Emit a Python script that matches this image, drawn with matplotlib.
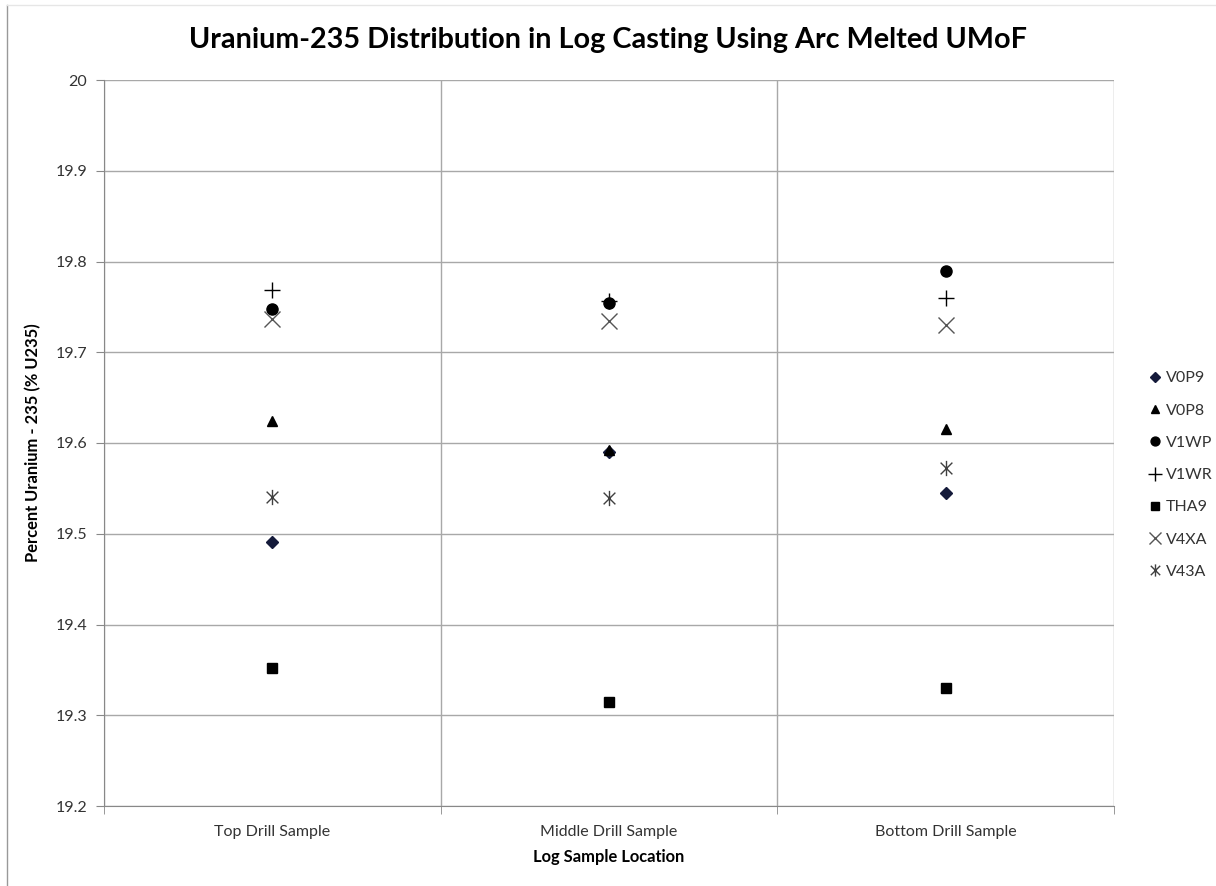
import matplotlib
matplotlib.use("Agg")
import matplotlib.pyplot as plt
from matplotlib.path import Path
from matplotlib.lines import Line2D

categories = ["Top Drill Sample", "Middle Drill Sample", "Bottom Drill Sample"]
series_names = ["V0P9", "V0P8", "V1WP", "V1WR", "THA9", "V4XA", "V43A"]
V0P9 = [19.491, 19.590, 19.545]
V0P8 = [19.624, 19.592, 19.615]
V1WP = [19.748, 19.754, 19.790]
V1WR = [19.769, 19.756, 19.760]
THA9 = [19.352, 19.315, 19.330]
V4XA = [19.737, 19.734, 19.730]
V43A = [19.540, 19.539, 19.573]
series_values = [V0P9, V0P8, V1WP, V1WR, THA9, V4XA, V43A]
yticks = [19.2, 19.3, 19.4, 19.5, 19.6, 19.7, 19.8, 19.9, 20.0]
ytick_labels = ["19.2", "19.3", "19.4", "19.5", "19.6", "19.7", "19.8", "19.9", "20"]

plt.rcParams['font.family'] = ['Lato', 'DejaVu Sans']

asterisk = Path([(-1, -1), (1, 1), (-1, 1), (1, -1), (0, -1.3), (0, 1.3)],
                [Path.MOVETO, Path.LINETO, Path.MOVETO, Path.LINETO, Path.MOVETO, Path.LINETO])

styles = [
    dict(marker='D', ms=6, color='#141a3a', mec='#141a3a'),
    dict(marker='^', ms=7, color='black'),
    dict(marker='o', ms=8, color='black'),
    dict(marker='+', ms=12, color='black', mew=1.0),
    dict(marker='s', ms=7, color='black'),
    dict(marker='x', ms=11, color='#555555', mew=1.0),
    dict(marker=asterisk, ms=11, color='#404040', mew=1.0),
]

fig = plt.figure(figsize=(12.16, 8.86), dpi=100)
ax = fig.add_axes([104/1216, 1-806/886, (1114-104)/1216, (806-80)/886])

x = list(range(len(categories)))
for name, vals, st in zip(series_names, series_values, styles):
    ax.plot(x, vals, linestyle='none', label=name, **st)

ax.set_xlim(-0.5, 2.5)
ax.set_ylim(19.2, 20.0)
ax.set_yticks(yticks)
ax.set_yticklabels(ytick_labels, fontsize=11.5, color='#333333')
ax.set_xticks(x)
ax.set_xticklabels(categories, fontsize=11.5, color='#333333')
ax.set_xticks([-0.5, 0.5, 1.5, 2.5], minor=True)
ax.tick_params(axis='x', which='major', length=0, pad=14)
ax.tick_params(axis='x', which='minor', length=6, color='#888888', direction='out')
ax.tick_params(axis='y', length=6, color='#888888', direction='out', pad=6)
ax.grid(True, axis='y', which='major', color='#a8a8a8', linewidth=1.0)
ax.grid(True, axis='x', which='minor', color='#a8a8a8', linewidth=1.0)
ax.set_axisbelow(True)
for s in ['top', 'right']:
    ax.spines[s].set_visible(False)
for s in ['left', 'bottom']:
    ax.spines[s].set_color('#888888')

ax.set_xlabel("Log Sample Location", fontsize=11.9, fontweight='bold', labelpad=7)
ax.set_ylabel("Percent Uranium - 235 (% U235)", fontsize=11.9, fontweight='bold', labelpad=10)
fig.text(0.5, 1-40/886, "Uranium-235 Distribution in Log Casting Using Arc Melted UMoF",
         ha='center', va='center', fontsize=20.7, fontweight='bold', color='black')

leg = ax.legend(loc='center left', bbox_to_anchor=(1139/1216, 1-475/886),
                bbox_transform=fig.transFigure, frameon=False, fontsize=11.5,
                handletextpad=0.2, handlelength=1.0, labelspacing=1.13, borderpad=0,
                markerscale=0.8)
for t in leg.get_texts():
    t.set_color('#333333')

fig.add_artist(Line2D([7/1216, 7/1216], [0, 1-5/886], color='#999999', lw=1.0, transform=fig.transFigure))
fig.add_artist(Line2D([7/1216, 1], [1-5/886, 1-5/886], color='#e6e6e6', lw=1.0, transform=fig.transFigure))

fig.savefig("out.png", dpi=100)
